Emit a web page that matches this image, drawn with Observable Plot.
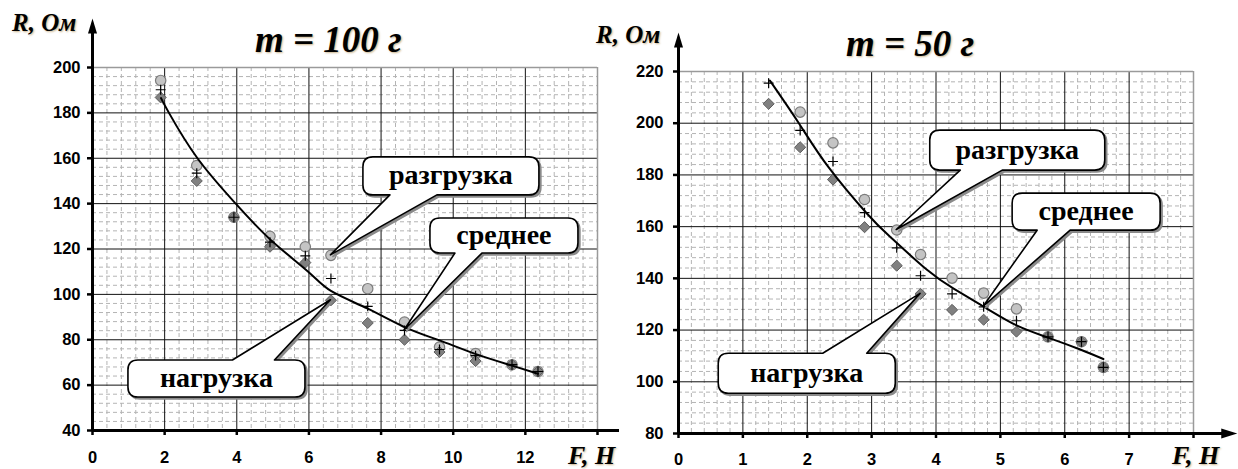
<!DOCTYPE html>
<html>
<head>
<meta charset="utf-8">
<script src="https://cdn.jsdelivr.net/npm/d3@7"></script>
<script src="https://cdn.jsdelivr.net/npm/@observablehq/plot@0.6"></script>
<style>
  body { margin: 0; background: #fff; }
  #wrap { position: relative; width: 1238px; height: 469px; overflow: hidden; background: #fff; }
  .panel { position: absolute; top: 0; width: 619px; height: 469px; }
  .lbl { position: absolute; font-family: "Liberation Serif", "Times New Roman", serif; font-weight: bold; font-style: italic; white-space: nowrap; line-height: 1; color: #000; text-shadow: 1px 1px 2px rgba(140, 90, 0, 0.45); }
  .title { font-size: 37px; }
  .axl { font-size: 25px; }
  .axf { font-size: 26px; }
</style>
</head>
<body>
<div id="wrap">
  <div class="panel" id="left" style="left:0px"></div>
  <div class="panel" id="right" style="left:619px"></div>
  <div class="lbl axl" style="left:12px; top:10px">R, Ом</div>
  <div class="lbl title" style="left:255px; top:21px">m = 100 г</div>
  <div class="lbl axf" style="left:568px; top:443px">F, Н</div>
  <div class="lbl axl" style="left:596px; top:22px">R, Ом</div>
  <div class="lbl title" style="left:846px; top:25px">m = 50 г</div>
  <div class="lbl axf" style="left:1172px; top:443px">F, Н</div>
</div>
<script>
// ---------- m = 100 г ----------
const F100      = [1.89, 2.89, 3.92, 4.92, 5.90, 6.61, 7.63, 8.65, 9.62, 10.62, 11.63, 12.35];
const unload100 = [194.3, 156.8, 134, 125.6, 121, 117.2, 102.5, 87.8, 76.8, 73.9, 69, 66];
const load100   = [186.8, 150, 134, 121, 114, 97.4, 87.4, 80, 74.6, 70.6, 69, 66];
const avg100    = [190.2, 153.4, 134, 123, 117, 107, 94.7, 84.1, 75.7, 73, 69, 66];
const fitF100   = [1.90, 2.12, 2.91, 3.97, 4.94, 5.98, 6.61, 7.63, 8.65, 9.62, 10.59, 11.61, 12.35];
const fitR100   = [186.5, 180, 160, 140, 124, 110, 101.5, 93.7, 85.6, 79.7, 73.9, 68.7, 65];
const xTicks100 = [0, 2, 4, 6, 8, 10, 12, 14];
const yTicks100 = [40, 60, 80, 100, 120, 140, 160, 180, 200];

// ---------- m = 50 г ----------
const F50       = [1.40, 1.89, 2.40, 2.89, 3.39, 3.76, 4.25, 4.74, 5.25, 5.74, 6.26, 6.60];
const unload50  = [223.5, 204.3, 192.4, 170.5, 158.7, 149.2, 140.1, 134.3, 128.2, 117.4, 115.5, 105.6];
const load50    = [207.5, 190.7, 178.2, 159.8, 144.9, 134, 127.8, 124, 119.4, 117.4, 115.5, 105.6];
const avg50     = [215.5, 197.2, 185.2, 165.4, 151.8, 141, 134, 129, 123.6, 117.4, 115.5, 105.6];
const fitF50    = [1.42, 1.87, 2.33, 2.93, 3.29, 3.85, 4.28, 4.77, 5.26, 5.75, 6.24, 6.60];
const fitR50    = [216.5, 200, 183, 165, 156, 143.5, 135.9, 128.6, 121.7, 117, 112.5, 108.8];
const xTicks50  = [0, 1, 2, 3, 4, 5, 6, 7, 8];
const yTicks50  = [80, 100, 120, 140, 160, 180, 200, 220];

const calloutLabels = ["разгрузка", "среднее", "нагрузка"];

const rows = (F, u, l, a) => F.map((f, i) => ({F: f, unload: u[i], load: l[i], avg: a[i]}));
const fitRows = (F, R) => F.map((f, i) => ({F: f, R: R[i]}));

const arrowUp = {draw(ctx) { ctx.moveTo(0, 0); ctx.lineTo(4.5, 15); ctx.lineTo(-4.5, 15); ctx.closePath(); }};
const arrowRight = {draw(ctx) { ctx.moveTo(0, 0); ctx.lineTo(-16, 5); ctx.lineTo(-16, -5); ctx.closePath(); }};

function makeChart(cfg) {
  const data = rows(cfg.F, cfg.unload, cfg.load, cfg.avg);
  const fit = fitRows(cfg.fitF, cfg.fitR);
  const [x0, x1] = cfg.xDomain, [y0, y1] = cfg.yDomain;
  const minorX = d3.range(x0, x1 + 1e-9, cfg.minorX).filter(v => Math.abs(v / cfg.majorX - Math.round(v / cfg.majorX)) > 1e-6);
  const minorY = d3.range(y0, y1 + 1e-9, cfg.minorY).filter(v => Math.abs(v / cfg.majorY - Math.round(v / cfg.majorY)) > 1e-6);
  const plot = Plot.plot({
    width: 619, height: 469,
    marginLeft: cfg.margins[0], marginRight: cfg.margins[1], marginTop: cfg.margins[2], marginBottom: cfg.margins[3],
    style: {fontFamily: "'Liberation Sans', Arial, sans-serif", fontWeight: "bold", fontSize: "16.5px", color: "#000", background: "transparent"},
    x: {domain: cfg.xDomain},
    y: {domain: cfg.yDomain},
    marks: [
      Plot.ruleX(minorX, {stroke: "#b4b4b4", strokeDasharray: "4,3"}),
      Plot.ruleY(minorY, {stroke: "#b4b4b4", strokeDasharray: "4,3"}),
      Plot.ruleX(cfg.xTicks.filter(v => v > x0 && v < x1), {stroke: "#111", strokeWidth: 1}),
      Plot.ruleY(cfg.yTicks.filter(v => v > y0 && v < y1), {stroke: "#111", strokeWidth: 1}),
      Plot.ruleY([y1], {stroke: "#9a9a9a", strokeWidth: 1.5}),
      Plot.ruleX([x1], {stroke: "#9a9a9a", strokeWidth: 1.5}),
      Plot.axisX({ticks: cfg.xTicks, tickSize: 5, tickPadding: cfg.xPad, strokeWidth: 2.5, label: null,
                  tickFormat: d => d === x1 ? "" : String(d)}),
      Plot.axisY({ticks: cfg.yTicks, tickSize: 5, tickPadding: cfg.yPad, strokeWidth: 2.5, label: null}),
      Plot.ruleY([y0], {x1: 0, x2: cfg.xArrow - (cfg.xArrow - x0) * 0.02, stroke: "#000", strokeWidth: 3}),
      Plot.ruleX([0], {y1: y0, y2: cfg.yArrow - (cfg.yArrow - y0) * 0.02, stroke: "#000", strokeWidth: 3}),
      Plot.dot([{x: cfg.xArrow, y: y0}], {x: "x", y: "y", symbol: arrowRight, fill: "#000", stroke: "none", r: 5}),
      Plot.dot([{x: 0, y: cfg.yArrow}], {x: "x", y: "y", symbol: arrowUp, fill: "#000", stroke: "none", r: 5}),
      Plot.dot(data, {x: "F", y: "unload", r: 5.2, fill: "#c4c4c4", stroke: "#7c7c7c", strokeWidth: 1.2, clip: true}),
      Plot.dot(data, {x: "F", y: "load", symbol: "diamond2", r: 5, fill: "#808080", stroke: "#5e5e5e", strokeWidth: 1}),
      Plot.line(fit, {x: "F", y: "R", curve: "natural", stroke: "#000", strokeWidth: 2}),
      Plot.dot(data, {x: "F", y: "avg", symbol: "plus", r: 3.3, stroke: "#000", strokeWidth: 1.2})
    ]
  });
  // callouts
  const xs = plot.scale("x"), ys = plot.scale("y");
  const svg = d3.select(plot);
  const g = svg.append("g");
  cfg.callouts.forEach((c, k) => {
    const cx = xs.apply(c.x), cy = ys.apply(c.y), w = c.w, h = c.h, r = 10;
    const bx0 = cx - w / 2, bx1 = cx + w / 2, by0 = cy - h / 2, by1 = cy + h / 2;
    const d = data[c.i];
    const tx = xs.apply(d.F), ty = ys.apply(d[c.series]);
    const b1 = cx + c.base[0], b2 = cx + c.base[1];
    let p;
    if (c.side === "bottom") {
      p = `M${bx0 + r},${by0} H${bx1 - r} Q${bx1},${by0} ${bx1},${by0 + r} V${by1 - r} Q${bx1},${by1} ${bx1 - r},${by1} H${b2} L${tx},${ty} L${b1},${by1} H${bx0 + r} Q${bx0},${by1} ${bx0},${by1 - r} V${by0 + r} Q${bx0},${by0} ${bx0 + r},${by0} Z`;
    } else {
      p = `M${bx0 + r},${by0} H${b1} L${tx},${ty} L${b2},${by0} H${bx1 - r} Q${bx1},${by0} ${bx1},${by0 + r} V${by1 - r} Q${bx1},${by1} ${bx1 - r},${by1} H${bx0 + r} Q${bx0},${by1} ${bx0},${by1 - r} V${by0 + r} Q${bx0},${by0} ${bx0 + r},${by0} Z`;
    }
    g.append("path").attr("d", p).attr("transform", "translate(2,2)").attr("fill", "#8a8a8a").attr("stroke", "#8a8a8a").attr("stroke-width", 1.5);
    g.append("path").attr("d", p).attr("fill", "#fff").attr("stroke", "#000").attr("stroke-width", 1.6).attr("stroke-linejoin", "round");
    g.append("text").attr("x", cx).attr("y", cy).attr("text-anchor", "middle").attr("dy", "0.3em")
      .attr("font-family", "'Liberation Serif', 'Times New Roman', serif").attr("font-weight", "bold").attr("font-size", 28)
      .attr("fill", "#000").text(calloutLabels[k]);
  });
  return plot;
}

document.getElementById("left").appendChild(makeChart({
  F: F100, unload: unload100, load: load100, avg: avg100, fitF: fitF100, fitR: fitR100,
  xDomain: [0, 14], yDomain: [40, 200], xTicks: xTicks100, yTicks: yTicks100,
  majorX: 2, majorY: 20, minorX: 0.4, minorY: 4,
  margins: [92, 22, 67, 39], xPad: 16, yPad: 7, xArrow: 15.05, yArrow: 221.6,
  callouts: [
    {x: 9.95, y: 152, w: 176, h: 38, side: "bottom", base: [-61, -14], series: "unload", i: 5},
    {x: 11.42, y: 125.7, w: 148, h: 35, side: "bottom", base: [-49, -22], series: "avg", i: 7},
    {x: 3.45, y: 62.7, w: 177, h: 37, side: "top", base: [16, 58], series: "load", i: 5}
  ]
}));

document.getElementById("right").appendChild(makeChart({
  F: F50, unload: unload50, load: load50, avg: avg50, fitF: fitF50, fitR: fitR50,
  xDomain: [0, 8], yDomain: [80, 220], xTicks: xTicks50, yTicks: yTicks50,
  majorX: 1, majorY: 20, minorX: 0.2, minorY: 4,
  margins: [59, 45, 71, 36], xPad: 15, yPad: 10, xArrow: 8.68, yArrow: 235.1,
  callouts: [
    {x: 5.27, y: 189.4, w: 175, h: 40, side: "bottom", base: [-57, -15], series: "unload", i: 4},
    {x: 6.34, y: 165.6, w: 148, h: 37, side: "bottom", base: [-49, -16], series: "avg", i: 7},
    {x: 2.0, y: 103.1, w: 177, h: 40, side: "top", base: [16, 60], series: "load", i: 5}
  ]
}));
</script>
</body>
</html>
